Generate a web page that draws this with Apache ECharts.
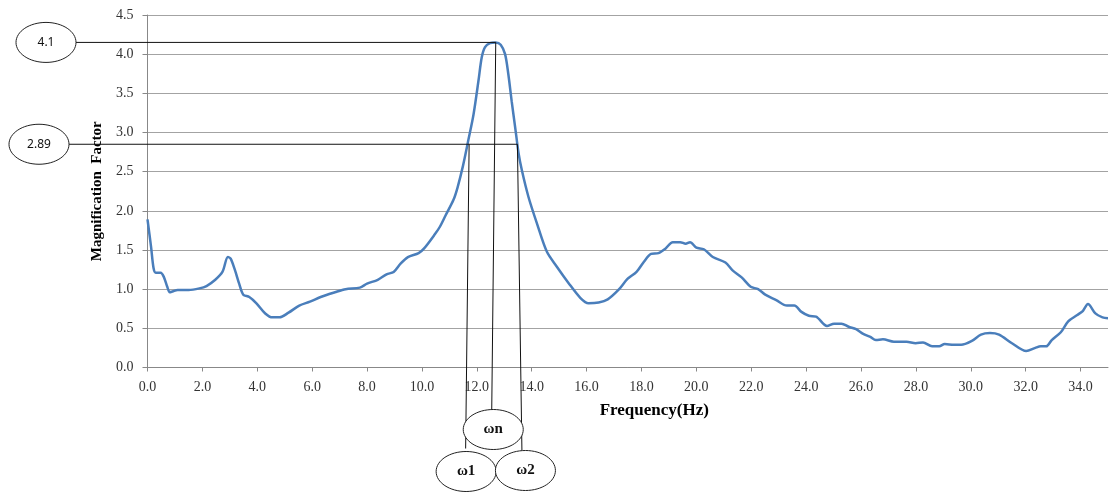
<!DOCTYPE html>
<html lang="en">
<head>
    <meta charset="UTF-8">
    <title>Magnification Factor</title>
    <script src="https://cdn.jsdelivr.net/npm/echarts@6/dist/echarts.min.js"></script>
    <style>
        html, body { margin: 0; padding: 0; background: #fff; }
        #chart { width: 1109px; height: 495px; }
    </style>
</head>
<body>
    <div id="chart"></div>
    <script>
        // frequency (Hz) and magnification factor
        const freq = [0, 0.13, 0.22, 0.3, 0.48, 0.59, 0.72, 0.81, 0.91, 1.1, 1.5, 1.89, 2.15, 2.47, 2.73, 2.93, 3.03, 3.19, 3.34, 3.49,
            3.71, 3.97, 4.29, 4.55, 4.81, 5.14, 5.53, 5.92, 6.31, 6.83, 7.22, 7.74, 8.0, 8.39, 8.71, 8.97, 9.23, 9.49, 9.88, 10.08,
            10.47, 10.66, 10.86, 11.15, 11.3, 11.5, 11.69, 11.88, 12.06, 12.18, 12.3, 12.48, 12.69, 12.87, 13.03, 13.15, 13.27, 13.4, 13.52, 13.64,
            13.88, 14.19, 14.55, 14.91, 15.34, 15.77, 16.07, 16.44, 16.77, 17.16, 17.49, 17.82, 18.09, 18.35, 18.62, 18.88, 19.14, 19.41, 19.61, 19.77,
            20.0, 20.27, 20.6, 21.06, 21.32, 21.65, 21.98, 22.25, 22.51, 22.91, 23.3, 23.57, 23.83, 24.1, 24.36, 24.76, 25.02, 25.29, 25.55, 25.82,
            26.08, 26.34, 26.54, 26.8, 27.2, 27.66, 27.99, 28.26, 28.59, 28.85, 29.05, 29.38, 29.65, 30.04, 30.37, 30.7, 31.03, 31.5, 32.02, 32.35,
            32.55, 32.75, 32.95, 33.28, 33.55, 33.88, 34.08, 34.27, 34.54, 34.8, 35.0];
        const magnification = [1.89, 1.54, 1.27, 1.21, 1.21, 1.16, 1.03, 0.96, 0.97, 0.99, 0.99, 1.01, 1.04, 1.12, 1.22, 1.41, 1.39, 1.24, 1.07, 0.93,
            0.90, 0.82, 0.69, 0.64, 0.64, 0.70, 0.79, 0.84, 0.90, 0.96, 1.00, 1.02, 1.07, 1.12, 1.19, 1.22, 1.33, 1.41, 1.46, 1.52,
            1.70, 1.80, 1.94, 2.14, 2.30, 2.58, 2.90, 3.23, 3.66, 3.96, 4.09, 4.14, 4.15, 4.12, 4.00, 3.74, 3.40, 3.06, 2.74, 2.52,
            2.18, 1.84, 1.48, 1.29, 1.08, 0.89, 0.82, 0.83, 0.87, 0.99, 1.13, 1.22, 1.35, 1.45, 1.46, 1.52, 1.60, 1.60, 1.58, 1.60,
            1.53, 1.51, 1.41, 1.34, 1.24, 1.15, 1.03, 1.00, 0.93, 0.86, 0.79, 0.79, 0.71, 0.66, 0.65, 0.53, 0.56, 0.56, 0.52, 0.49,
            0.43, 0.39, 0.35, 0.36, 0.33, 0.33, 0.31, 0.32, 0.27, 0.27, 0.30, 0.29, 0.29, 0.34, 0.42, 0.44, 0.42, 0.31, 0.21, 0.25,
            0.27, 0.27, 0.35, 0.45, 0.59, 0.67, 0.72, 0.81, 0.69, 0.64, 0.63];
        const xTicks = [0, 2, 4, 6, 8, 10, 12, 14, 16, 18, 20, 22, 24, 26, 28, 30, 32, 34];

        // half-power annotation
        const peakFreq = 12.69, peakMag = 4.15, peakLabel = '4.1';
        const halfMag = 2.85, halfLabel = '2.89';
        const omega1 = 11.72, omega2 = 13.48;

        const serif = '"Liberation Serif", "DejaVu Serif", serif';
        const gridColor = '#a3a3a3';

        let chart = echarts.init(document.getElementById('chart'));
        let option = {
            animation: false,
            backgroundColor: '#fff',
            grid: { left: 147.5, right: 1, top: 15, bottom: 127.5 },
            xAxis: {
                type: 'value',
                min: 0,
                max: 35,
                name: 'Frequency(Hz)',
                nameLocation: 'middle',
                nameGap: 35,
                nameTextStyle: { fontFamily: serif, fontWeight: 'bold', fontSize: 17, color: '#000', padding: [0, 0, 0, 53] },
                axisLine: { lineStyle: { color: '#888', width: 1 } },
                axisTick: { customValues: xTicks, length: 4, lineStyle: { color: '#888' } },
                axisLabel: {
                    customValues: xTicks,
                    margin: 13,
                    fontFamily: serif,
                    fontSize: 14,
                    color: '#333',
                    formatter: v => v.toFixed(1)
                },
                splitLine: { show: false }
            },
            yAxis: {
                type: 'value',
                min: 0,
                max: 4.5,
                interval: 0.5,
                name: 'Magnification  Factor',
                nameLocation: 'middle',
                nameGap: 31.5,
                nameTextStyle: { fontFamily: serif, fontWeight: 'bold', fontSize: 15, color: '#000' },
                axisLine: { show: true, lineStyle: { color: '#888', width: 1 } },
                axisTick: { show: true, length: 5, lineStyle: { color: '#888' } },
                axisLabel: {
                    margin: 14,
                    fontFamily: serif,
                    fontSize: 14,
                    color: '#333',
                    formatter: v => v.toFixed(1)
                },
                splitLine: { show: true, lineStyle: { color: gridColor, width: 1.2 } }
            },
            series: [{
                type: 'line',
                data: freq.map((f, i) => [f, magnification[i]]),
                showSymbol: false,
                smooth: 0.3,
                lineStyle: { color: '#4a7ebb', width: 2.5 }
            }]
        };
        chart.setOption(option);

        // annotations placed from the axis scales
        function px(f, v) { return chart.convertToPixel({ gridIndex: 0 }, [f, v]); }
        let pk = px(peakFreq, peakMag);
        let w1 = px(omega1, halfMag);
        let w2 = px(omega2, halfMag);
        let base = px(0, 0);

        const rx = 30, ry = 20;
        let ePeak = [46, pk[1]];
        let eHalf = [39, w1[1]];
        let eN = [pk[0] - 2.5, base[1] + 62];
        let e1 = [w1[0] - 3, base[1] + 104];
        let e2 = [w2[0] + 8, base[1] + 103];

        function line(a, b) {
            return { type: 'line', z: 10, shape: { x1: a[0], y1: a[1], x2: b[0], y2: b[1] }, style: { stroke: '#111', lineWidth: 1 } };
        }
        function bubble(c, text, font) {
            return [
                { type: 'ellipse', z: 11, shape: { cx: c[0], cy: c[1], rx: rx, ry: ry }, style: { fill: '#fff', stroke: '#222', lineWidth: 1 } },
                { type: 'text', z: 12, x: c[0], y: c[1], style: { text: text, font: font, fill: '#111', align: 'center', verticalAlign: 'middle' } }
            ];
        }
        const sansFont = '12px "Noto Sans", "Liberation Sans", sans-serif';
        const omegaFont = 'bold 15px "Liberation Serif", "DejaVu Serif", serif';

        let graphics = [
            line([ePeak[0] + rx, pk[1]], pk),
            line([eHalf[0] + rx, w1[1]], w2),
            line(pk, [eN[0] - 1.5, eN[1] - ry]),
            line(w1, [w1[0] - 3.5, e1[1] - ry - 3]),
            line(w2, [w2[0] + 4.5, e2[1] - ry])
        ];
        graphics = graphics.concat(
            bubble(ePeak, peakLabel, sansFont),
            bubble(eHalf, halfLabel, sansFont),
            bubble(eN, 'ωn', omegaFont),
            bubble(e1, 'ω1', omegaFont),
            bubble(e2, 'ω2', omegaFont)
        );
        chart.setOption({ graphic: graphics });
    </script>
</body>
</html>
